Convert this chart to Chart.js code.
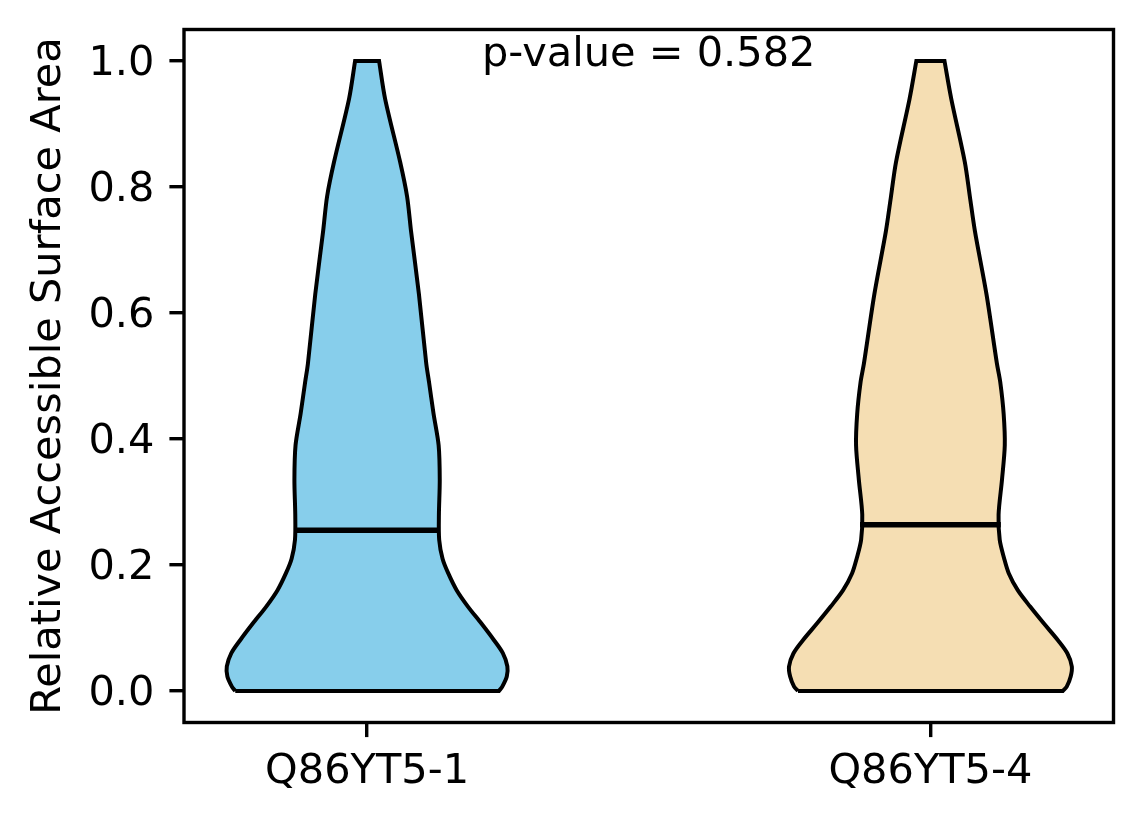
<!DOCTYPE html>
<html>
<head>
<meta charset="utf-8">
<title>Relative Accessible Surface Area — violin plot</title>
<script src="https://cdn.jsdelivr.net/npm/chart.js@4.4.1/dist/chart.umd.min.js"></script>
<style>
  html, body { margin: 0; padding: 0; background: #fff; }
  #wrap { width: 1144px; height: 824px; }
</style>
</head>
<body>
<div id="wrap"><canvas id="chart-violin" width="1144" height="824"></canvas></div>
<script>
'use strict';

/* ── Data ── */
const CATEGORIES = ['Q86YT5-1', 'Q86YT5-4'];
const POSITIONS  = [1, 2];
const Y_TICKS    = [0.0, 0.2, 0.4, 0.6, 0.8, 1.0];

/* density outline: y levels and violin half-widths at each level */
const LEVELS = [0, 0.007, 0.023, 0.039, 0.06, 0.081, 0.107, 0.134, 0.16, 0.187,
                0.21, 0.24, 0.28, 0.335, 0.39, 0.44, 0.49, 0.52, 0.63, 0.73,
                0.785, 0.84, 0.94, 1.0];
const HALF_WIDTH_1 = [0.234, 0.240, 0.248, 0.249, 0.241, 0.225, 0.203, 0.179, 0.159, 0.144,
                      0.134, 0.128, 0.1275, 0.129, 0.127, 0.118, 0.110, 0.105, 0.092, 0.078,
                      0.071, 0.0586, 0.032, 0.0213];
const HALF_WIDTH_4 = [0.235, 0.242, 0.249, 0.251, 0.243, 0.226, 0.2015, 0.177, 0.155, 0.139,
                      0.131, 0.123, 0.121, 0.127, 0.132, 0.130, 0.124, 0.118, 0.0995, 0.079,
                      0.070, 0.061, 0.037, 0.025];
const MEDIANS = [0.255, 0.264];
const P_VALUE = '0.582';

/* ── Theme ── */
const C = {
  sky:   '#87CEEB',
  wheat: '#F5DEB3',
  ink:   '#000000',
};
const FONT_FAMILY = "'DejaVu Sans', 'Liberation Sans', sans-serif";
const FONT_SIZE   = 41.5;

Chart.defaults.font.family = FONT_FAMILY;
Chart.defaults.font.size   = FONT_SIZE;
Chart.defaults.color       = C.ink;

/* closed outline: left edge bottom→top, flat top, right edge top→bottom, flat bottom.
   Corner points are doubled so the spline keeps them sharp. */
function violinOutline(pos, halfWidths) {
  const left  = LEVELS.map((y, i) => ({ x: pos - halfWidths[i], y }));
  const right = LEVELS.map((y, i) => ({ x: pos + halfWidths[i], y })).reverse();
  const topL = left[left.length - 1];
  const topR = right[0];
  const botR = right[right.length - 1];
  return [...left, topL, topR, ...right, botR, left[0]];
}

function medianLine(pos, m) {
  return [{ x: pos - 0.125, y: m }, { x: pos + 0.125, y: m }];
}

/* ── Plugins: axes frame + p-value text ── */
const framePlugin = {
  id: 'frame',
  afterDraw(chart) {
    const { ctx, chartArea: a } = chart;
    ctx.save();
    ctx.strokeStyle = C.ink;
    ctx.lineWidth = 3.4;
    ctx.strokeRect(a.left, a.top, a.right - a.left, a.bottom - a.top);
    ctx.restore();
  },
};

const pValuePlugin = {
  id: 'pValue',
  afterDatasetsDraw(chart) {
    const { ctx, chartArea: a } = chart;
    ctx.save();
    ctx.font = `${FONT_SIZE}px ${FONT_FAMILY}`;
    ctx.fillStyle = C.ink;
    ctx.textAlign = 'center';
    ctx.textBaseline = 'alphabetic';
    ctx.fillText(`p-value = ${P_VALUE}`, (a.left + a.right) / 2, a.top + 36.5);
    ctx.restore();
  },
};

/* ── Shared axis pieces ── */
const tickGrid = {
  drawOnChartArea: false,
  drawTicks: true,
  tickLength: 14.6,
  lineWidth: 3.4,
  tickWidth: 3.4,
  tickColor: C.ink,
};

(function initViolinChart() {
  const ctx = document.getElementById('chart-violin');
  if (!ctx) return;

  const fills = [C.sky, C.wheat];
  const widths = [HALF_WIDTH_1, HALF_WIDTH_4];

  const violins = POSITIONS.map((pos, i) => ({
    label: CATEGORIES[i],
    data: violinOutline(pos, widths[i]),
    showLine: true,
    fill: 'shape',
    backgroundColor: fills[i],
    borderColor: C.ink,
    borderWidth: 4,
    borderJoinStyle: 'miter',
    pointRadius: 0,
    tension: 0.3,
    order: 2,
  }));

  const medians = POSITIONS.map((pos, i) => ({
    label: CATEGORIES[i] + ' median',
    data: medianLine(pos, MEDIANS[i]),
    showLine: true,
    fill: false,
    borderColor: C.ink,
    borderWidth: 5.5,
    borderCapStyle: 'butt',
    pointRadius: 0,
    order: 1,
  }));

  new Chart(ctx, {
    type: 'scatter',
    data: { datasets: [...violins, ...medians] },
    options: {
      responsive: false,
      devicePixelRatio: 1,
      animation: false,
      layout: { padding: { top: 29.5, right: 30.5, left: 0, bottom: 0 } },
      plugins: {
        legend: { display: false },
        tooltip: { enabled: false },
      },
      scales: {
        x: {
          type: 'linear',
          min: 0.675,
          max: 2.325,
          afterBuildTicks: (s) => { s.ticks = POSITIONS.map(v => ({ value: v })); },
          afterFit: (s) => { s.height = 101.5; s.paddingLeft = 0; s.paddingRight = 0; },
          ticks: {
            callback: (v) => CATEGORIES[POSITIONS.indexOf(v)],
            padding: 10,
            maxRotation: 0,
            autoSkip: false,
          },
          grid: tickGrid,
          border: { display: false },
        },
        y: {
          min: -0.05,
          max: 1.05,
          afterBuildTicks: (s) => { s.ticks = Y_TICKS.map(v => ({ value: v })); },
          afterFit: (s) => { s.width = 184; s.paddingTop = 0; s.paddingBottom = 0; },
          ticks: {
            callback: (v) => v.toFixed(1),
            padding: 15,
            labelOffset: 3,
          },
          title: {
            display: true,
            text: 'Relative Accessible Surface Area',
            padding: { top: 24, bottom: 0 },
          },
          grid: tickGrid,
          border: { display: false },
        },
      },
    },
    plugins: [framePlugin, pValuePlugin],
  });
})();
</script>
</body>
</html>
